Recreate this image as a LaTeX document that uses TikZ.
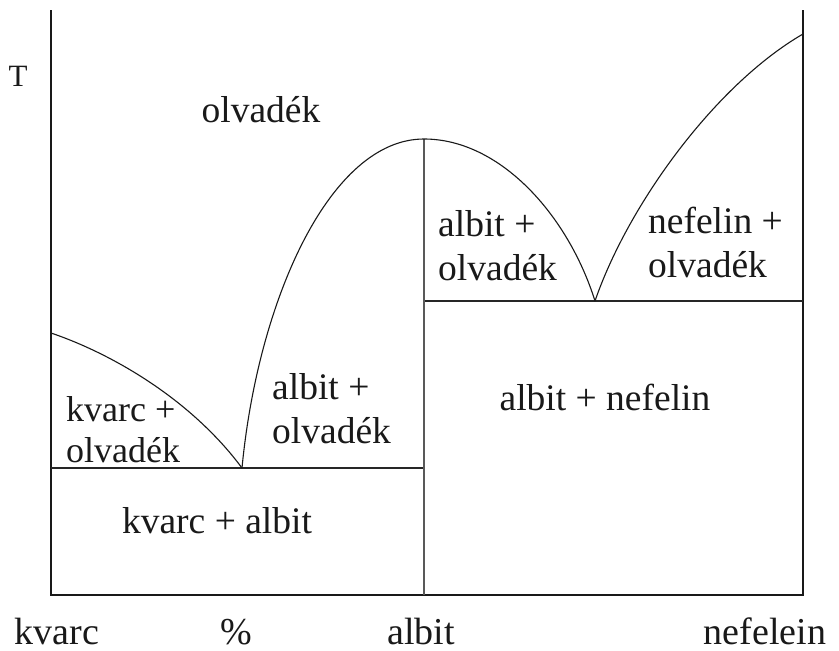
\documentclass[tikz,border=0pt]{standalone}
\usepackage{fontspec}
\setmainfont{Liberation Serif}
\begin{document}
\begin{tikzpicture}[x=1pt,y=-1pt,
  lbl/.style={font=\fontsize{37.5}{44}\selectfont, align=left, inner sep=0pt, text=black!90},
  mlbl/.style={lbl, anchor=north west},
  axlbl/.style={font=\fontsize{38}{44}\selectfont, inner sep=0pt, anchor=base, text=black!90},
  axis/.style={line width=2.2pt, black!90},
  thin/.style={line width=1.1pt, black!85},
  curve/.style={line width=1.1pt, black!90}]
\useasboundingbox (0,0) rectangle (839,651);
% frame points
\coordinate (tl) at (51,10);
\coordinate (bl) at (51,595);
\coordinate (br) at (803,595);
\coordinate (tr) at (803,10);
\coordinate (e1) at (242,468);
\coordinate (e2) at (595,301);
\coordinate (pk) at (424,139);
\coordinate (lq) at (51,333);
\coordinate (rq) at (803,34);
\coordinate (h1l) at (51,468);
\coordinate (h1r) at (424,468);
\coordinate (h2l) at (424,301);
\coordinate (h2r) at (803,301);
\coordinate (vb) at (424,595);
% axes
\draw[axis] (tl) -- (bl) -- (br) -- (tr);
% inner lines
\draw[thin] (h1l) -- (h1r);
\draw[thin] (h2l) -- (h2r);
\draw[thin, black!65, line width=1.5pt] (pk) -- (vb);
% liquidus curves
\draw[curve] (lq) .. controls (110,353) and (190,398) .. (e1);
\draw[curve] (e1) .. controls (258,300) and (330,139) .. (pk);
\draw[curve] (pk) .. controls (500,139) and (568,215) .. (e2);
\draw[curve] (e2) .. controls (628,205) and (715,85) .. (rq);
% labels
\node[lbl, font=\fontsize{31}{36}\selectfont, anchor=base] (T) at (18,86) {T};
\node[lbl, anchor=base] (liq) at (261,122) {olvadék};
\node[mlbl] (ao2) at (438,210) {albit +\\olvadék};
\node[mlbl] (no) at (648,207) {nefelin +\\olvadék};
\node[mlbl, font=\fontsize{36}{41}\selectfont] (ko) at (66,396) {kvarc +\\olvadék};
\node[mlbl] (ao1) at (272,373) {albit +\\olvadék};
\node[lbl, anchor=base] (an) at (605,410) {albit + nefelin};
\node[lbl, anchor=base] (ka) at (217,533) {kvarc + albit};
\node[axlbl] (xk) at (57,644) {kvarc};
\node[axlbl] (xp) at (236,644) {\%};
\node[axlbl] (xa) at (421,644) {albit};
\node[axlbl] (xn) at (765,644) {nefelein};
\end{tikzpicture}
\end{document}
